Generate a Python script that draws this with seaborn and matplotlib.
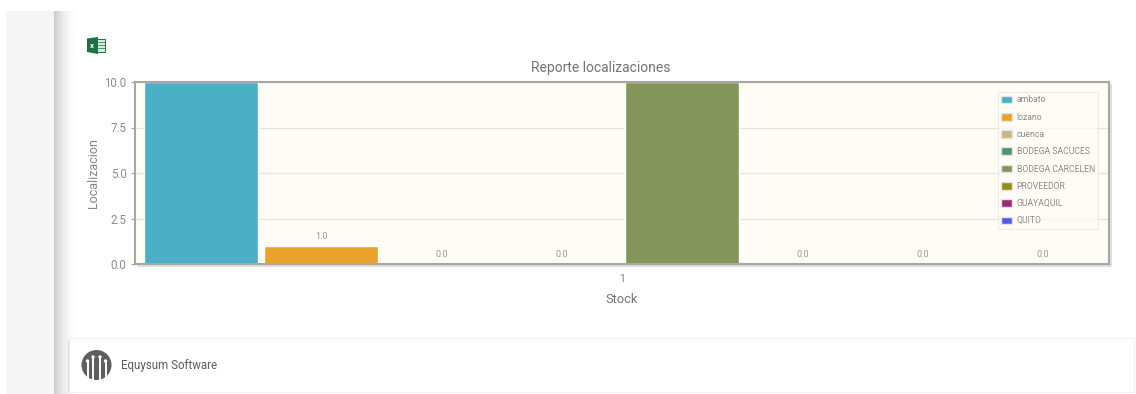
import numpy as np
import pandas as pd
import matplotlib
matplotlib.use("Agg")
import matplotlib.pyplot as plt
from matplotlib.patches import Rectangle, Circle, Polygon
import seaborn as sns

categories = ["1"]
locations = ["ambato", "lozano", "cuenca", "BODEGA SACUCES", "BODEGA CARCELEN", "PROVEEDOR", "GUAYAQUIL", "QUITO"]
stock = [10.0, 1.0, 0.0, 0.0, 10.0, 0.0, 0.0, 0.0]
colors = ["#4AB0C6", "#EBA22B", "#C9B77B", "#4F9278", "#84955A", "#958E10", "#9A2A78", "#4D5FE8"]
yticks = [0.0, 2.5, 5.0, 7.5, 10.0]

sns.set_theme(style="white")
plt.rcParams["font.family"] = ["Roboto", "DejaVu Sans"]

W, H = 1136, 394
fig = plt.figure(figsize=(W / 100, H / 100), dpi=100, facecolor="white")

# page furniture in pixel coordinates
bg = fig.add_axes([0, 0, 1, 1], zorder=0)
bg.set_xlim(0, W); bg.set_ylim(H, 0); bg.axis("off")
bg.add_patch(Rectangle((6, 11), 48, H - 11, fc="#F5F5F5", ec="none"))
grad = 1 - 0.2 * np.linspace(1, 0, 26) ** 2
bg.imshow(np.tile(grad, (2, 1)), extent=(54, 80, H, 11), cmap="gray", vmin=0, vmax=1,
          aspect="auto", zorder=1)
bg.set_xlim(0, W); bg.set_ylim(H, 0)
# footer card
bg.add_patch(Rectangle((68, 340), 1066, 53, fc="#D9D9D9", ec="none", zorder=2))
bg.add_patch(Rectangle((68.5, 338), 1065, 53.5, fc="white", ec="#F2F2F2", lw=0.8, zorder=3))
bg.add_patch(Circle((96.5, 365), 15, fc="#5F5F5F", ec="none", zorder=4))
for px, top in zip((87.5, 93, 100, 105.5), (361, 357, 357, 361)):
    bg.plot([px, px], [top, 381], color="white", lw=1.4, zorder=5)
    bg.add_patch(Circle((px, top), 1.7, fc="white", ec="none", zorder=5))
bg.text(121, 366, "Equysum Software", fontsize=8.3, color="#5A5A64", va="center", ha="left", zorder=5)
# spreadsheet icon
bg.add_patch(Rectangle((93, 39), 12, 13, fc="#DDE9E1", ec="#1E7145", lw=0.7, zorder=4))
for gy in (42, 45, 48):
    bg.plot([98, 105], [gy, gy], color="#1E7145", lw=0.5, zorder=5)
bg.add_patch(Polygon([(87, 38.5), (98, 37), (98, 54), (87, 52)], fc="#1E7145", ec="none", zorder=6))
bg.text(92, 45.5, "x", fontsize=5.5, color="white", ha="center", va="center", fontweight="bold", zorder=7)

# chart
L, R, T, B = 135, 1109, 82, 264
# soft shadow of the plot frame
bg.add_patch(Rectangle((L + 2, B), R - L, 2.5, fc="#DEDEDE", ec="none", zorder=2))
bg.add_patch(Rectangle((R, T + 2), 2.5, B - T, fc="#DEDEDE", ec="none", zorder=2))

ax = fig.add_axes([L / W, 1 - B / H, (R - L) / W, (B - T) / H], zorder=2)
ax.set_facecolor("#FFFCF5")

df = pd.DataFrame({
    "category": np.repeat(categories, len(locations)),
    "location": locations,
    "stock": stock,
})
sns.barplot(data=df, x="category", y="stock", hue="location", hue_order=locations,
            palette=colors, saturation=1, width=0.988, gap=0.052, errorbar=None,
            ax=ax, legend=True, zorder=3)

ax.set_xlim(-0.5, 0.5)
ax.set_ylim(0, 10)
ax.set_yticks(yticks)
ax.set_yticklabels([f"{v:.1f}" for v in yticks])
ax.grid(axis="y", color="#E6E4DE", lw=0.9, zorder=0)
ax.set_axisbelow(True)
ax.tick_params(axis="y", length=3, width=0.9, color="#A0A0A0", labelsize=8.3, labelcolor="#8C8C8C", pad=3, left=True)
ax.tick_params(axis="x", length=0, labelsize=7.5, labelcolor="#808080", pad=7)

for sp in ax.spines.values():
    sp.set_visible(True)
    sp.set_color("#A8A8A2")
    sp.set_linewidth(1.5)
    sp.set_zorder(6)

for container, value in zip(ax.containers, stock):
    lab = [f"{value:.1f}" if value < ax.get_ylim()[1] else ""]
    ax.bar_label(container, labels=lab, fontsize=6.6, color="#9A9A9A", padding=3.5)

ax.set_title("Reporte localizaciones", fontsize=10, color="#737373", pad=7, x=(600.5 - L) / (R - L))
ax.set_xlabel("Stock", fontsize=9.3, color="#737373", labelpad=7)
ax.set_ylabel("Localizacion", fontsize=9.0, color="#858585", labelpad=3.5)

handles, labels = ax.get_legend_handles_labels()
leg = ax.legend(handles, labels, loc="upper left",
                bbox_to_anchor=((998 - L) / (R - L), (B - 92) / (B - T)),
                borderaxespad=0, fontsize=6.2, labelcolor="#8A8A8A", frameon=True,
                facecolor="#FFFCF5", edgecolor="#E6E6E2", framealpha=0.75, fancybox=False,
                handlelength=1.25, handleheight=1.0, handletextpad=0.5,
                labelspacing=0.96, borderpad=0.4)
leg.get_frame().set_linewidth(0.8)
leg.set_zorder(10)
for h in leg.legend_handles:
    h.set_edgecolor("#E4E4E4")
    h.set_linewidth(1.0)

fig.savefig("out.png", dpi=100, facecolor="white")
